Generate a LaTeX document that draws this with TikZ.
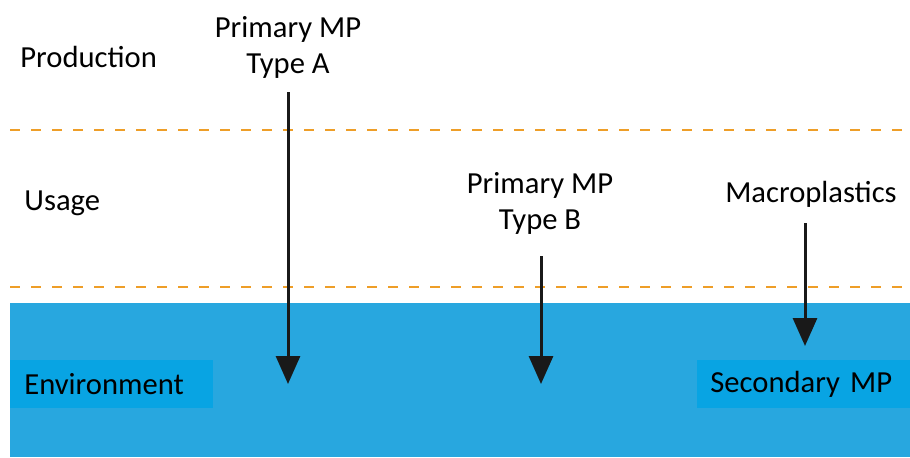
\documentclass[tikz,border=0pt]{standalone}
\usepackage{fontspec}
\setmainfont{Carlito}
\usepackage{tikz}
\usetikzlibrary{arrows.meta,positioning,calc}
\definecolor{envblue}{RGB}{40,167,223}
\definecolor{labelblue}{RGB}{8,164,227}
\definecolor{dashorange}{RGB}{238,158,40}
\definecolor{arrowblack}{RGB}{25,25,25}
\tikzstyle{stage}=[inner sep=0pt,anchor=west,font=\fontsize{15.3}{18}\selectfont]
\tikzstyle{source}=[inner sep=0pt,align=center,font=\fontsize{15.3}{18}\selectfont]
\tikzstyle{envlabel}=[fill=labelblue,inner ysep=0pt,anchor=west,align=left,minimum height=24pt,font=\fontsize{15.3}{18}\selectfont]
\tikzstyle{flow}=[line width=1.5pt,draw=arrowblack,-{Triangle[width=12pt,length=14pt]}]
\tikzstyle{border}=[dashorange,line width=1pt,dash pattern=on 5pt off 5.5pt]

\begin{document}
\begin{tikzpicture}[x=0.5pt,y=-0.5pt]
\useasboundingbox (0,0) rectangle (910,457);
% environment
\fill[envblue] (10,303) rectangle (910,457);
\node [envlabel,inner xsep=7pt,text width=87.5pt] (env) at (10,384) {Environment};
\node [envlabel,inner xsep=6.5pt,text width=93.5pt] (sec) at (697,384) {Secondary MP};
% stage borders
\draw[border] (10,130) -- (906,130);
\draw[border] (10,287) -- (906,287);
% stages
\node [stage] (prod) at (20,57) {Production};
\node [stage] (usage) at (24,203) {Usage};
% sources
\node [source] (typeA) at (288,47) {Primary MP\\Type A};
\node [source] (typeB) at (540,203) {Primary MP\\Type B};
\node [source] (macro) at (811,194) {Macroplastics};
\coordinate (endA) at (288,384);
\coordinate (endB) at (541,384);
\coordinate (endM) at (805,346);
\draw[flow,shorten <=7pt] (typeA.south) -- (endA);
\draw[flow,shorten <=11pt] (typeB.south -| endB) -- (endB);
\draw[flow,shorten <=8pt] (macro.south -| endM) -- (endM);
\end{tikzpicture}
\end{document}
